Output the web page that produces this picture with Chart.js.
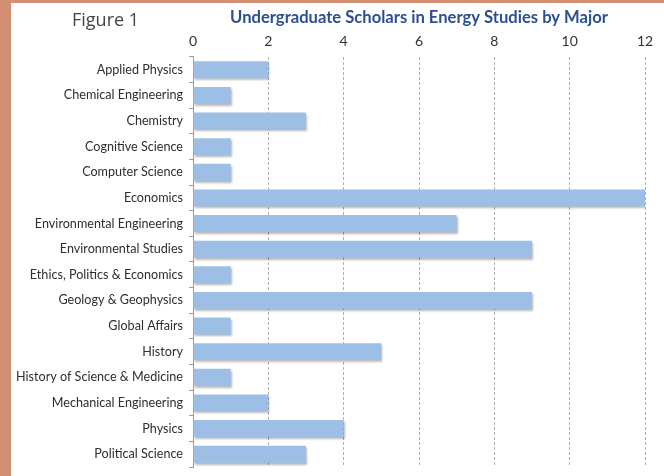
<!DOCTYPE html>
<html>
<head>
<meta charset="utf-8">
<script src="https://cdn.jsdelivr.net/npm/chart.js@4"></script>
<style>
  html, body { margin: 0; padding: 0; }
  body { width: 664px; height: 476px; background: #d38f71; position: relative; overflow: hidden; }
  #panel { position: absolute; left: 11px; top: 3px; width: 653px; height: 473px; background: #fff; }
  #fig { position: absolute; left: 61px; top: 4px; font: 18px "Open Sans", sans-serif; color: #444; }
  canvas { position: absolute; left: 0; top: 0; }
</style>
</head>
<body>
<div id="panel">
  <canvas id="chart" width="653" height="473"></canvas>
  <div id="fig">Figure 1</div>
</div>
<script>
const majors = [
  "Applied Physics", "Chemical Engineering", "Chemistry", "Cognitive Science",
  "Computer Science", "Economics", "Environmental Engineering", "Environmental Studies",
  "Ethics, Politics & Economics", "Geology & Geophysics", "Global Affairs", "History",
  "History of Science & Medicine", "Mechanical Engineering", "Physics", "Political Science"
];
const scholars = [2, 1, 3, 1, 1, 12, 7, 9, 1, 9, 1, 5, 1, 2, 4, 3];
const xTicks = [0, 2, 4, 6, 8, 10, 12];

const labelFont = "Lato, 'Liberation Sans', sans-serif";

// soft shadow under the bars
const barShadow = {
  id: "barShadow",
  beforeDatasetsDraw(chart) {
    const ctx = chart.ctx;
    ctx.save();
    ctx.shadowColor = "rgba(0,0,0,0.28)";
    ctx.shadowOffsetX = 1;
    ctx.shadowOffsetY = 2;
    ctx.shadowBlur = 2;
  },
  afterDatasetsDraw(chart) {
    chart.ctx.restore();
  }
};

new Chart(document.getElementById("chart").getContext("2d"), {
  type: "bar",
  data: {
    labels: majors,
    datasets: [{
      data: scholars,
      backgroundColor: "#9dbfe6",
      borderWidth: 0,
      categoryPercentage: 0.66,
      barPercentage: 1
    }]
  },
  options: {
    indexAxis: "y",
    responsive: false,
    animation: false,
    layout: { padding: { left: 0, right: 19, top: 0, bottom: 9 } },
    plugins: {
      legend: { display: false },
      tooltip: { enabled: false },
      title: {
        display: true,
        fullSize: false,
        text: "Undergraduate Scholars in Energy Studies by Major",
        color: "#2c4f8f",
        font: { family: labelFont, size: 16.6, weight: "bold", lineHeight: 1.2 },
        padding: { top: 5, bottom: 5 }
      }
    },
    scales: {
      x: {
        position: "top",
        min: xTicks[0],
        max: xTicks[xTicks.length - 1],
        afterBuildTicks: (s) => { s.ticks = xTicks.map((v) => ({ value: v })); },
        afterFit: (s) => { s.height = 24; },
        ticks: {
          color: "#333",
          padding: 7,
          font: { family: labelFont, size: 14 }
        },
        grid: {
          drawTicks: false,
          color: (c) => (c.tick && c.tick.value === 0 ? "rgba(0,0,0,0)" : "#b0b0b0"),
          lineWidth: 1
        },
        border: { display: false, dash: [3, 2] }
      },
      y: {
        afterFit: (s) => {
          s.width = 182;
          s.paddingTop = 0;
          s.paddingBottom = 0;
        },
        ticks: {
          color: "#2e2e2e",
          padding: 6,
          font: { family: labelFont, size: 12.6 }
        },
        grid: {
          drawOnChartArea: false,
          tickLength: 4,
          color: "#999"
        },
        border: { display: true, color: "#999", width: 1 }
      }
    }
  },
  plugins: [barShadow]
});
</script>
</body>
</html>
